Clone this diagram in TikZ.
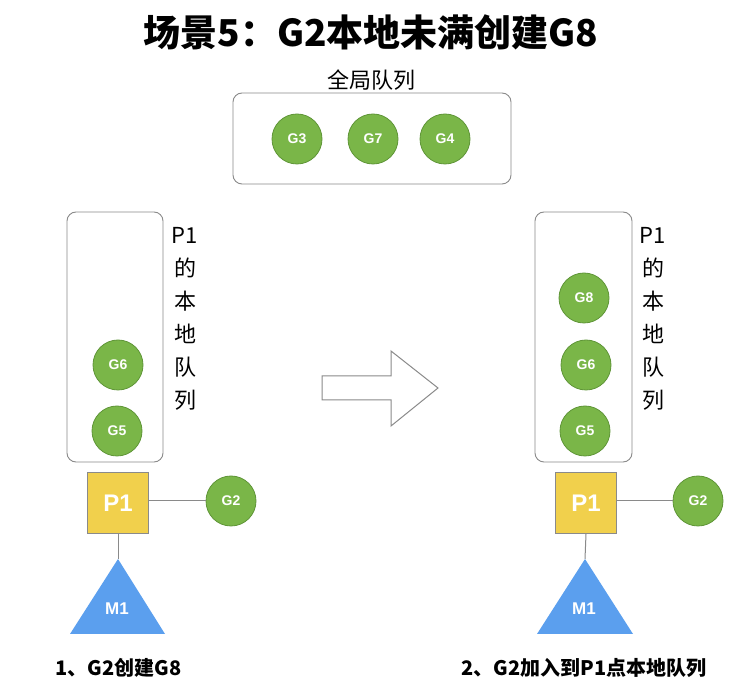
\documentclass[tikz,border=0pt]{standalone}
\usepackage{fontspec}
\setmainfont{Liberation Sans}
\newfontfamily\cjk{Noto Sans CJK SC}
\definecolor{gfill}{HTML}{7AB648}
\definecolor{gline}{HTML}{5F9537}
\definecolor{pfill}{HTML}{F1D04C}
\definecolor{mfill}{HTML}{5B9FEE}
\definecolor{boxline}{HTML}{8A8A8A}
\tikzset{
  gnode/.style={circle, fill=gfill, draw=gline, line width=0.8pt, minimum size=50pt, inner sep=0pt, text=white, font=\bfseries\fontsize{14}{14}\selectfont},
  pnode/.style={rectangle, fill=pfill, draw=boxline, line width=0.8pt, minimum size=61pt, inner sep=0pt, text=white, font=\bfseries\fontsize{24}{24}\selectfont},
  queue/.style={draw=boxline, rounded corners=9pt, line width=0.9pt},
  link/.style={draw=boxline, line width=1pt},
  qlabel/.style={align=center, font=\cjk\fontsize{22}{33}\selectfont},
  step label/.style={anchor=west, font=\cjk\bfseries\fontsize{20}{20}\selectfont},
}
\begin{document}
\begin{tikzpicture}[x=1pt, y=-1pt]
	\fill[white] (0,0) rectangle (732,692);
	\useasboundingbox (0,0) rectangle (732,692);
	% title
	\node (title) at (371,32) {\cjk\bfseries\fontsize{37}{37}\selectfont 场景5：G2本地未满创建G8};
	% global queue
	\node (globallabel) at (371,80) {\cjk\fontsize{22}{22}\selectfont 全局队列};
	\draw[queue] (233,93) rectangle (511,184);
	\node[gnode] (g3) at (297,139) {G3};
	\node[gnode] (g7) at (373,139) {G7};
	\node[gnode] (g4) at (445,139) {G4};

	% left: before
	\draw[queue] (67,212) rectangle (163,462);
	\node[qlabel] (lqlabel) at (185,319) {P1\\的\\本\\地\\队\\列};
	\node[gnode] (lg6) at (118,365) {G6};
	\node[gnode] (lg5) at (117,431) {G5};
	\node[pnode] (lp1) at (118,503) {P1};
	\node[gnode] (lg2) at (231,501) {G2};
	\draw[fill=mfill, draw=none] (118,559) coordinate (lm1top) -- (165,634) -- (70,634) -- cycle;
	\node[text=white, font=\bfseries\fontsize{17}{17}\selectfont] (lm1) at (117,609) {M1};
	\draw[link] (lp1.east |- lg2) -- (lg2.west);
	\draw[link] (lp1.south) -- (lm1top);
	\node[step label] (step1) at (52,668) {1、G2创建G8};

	% arrow
	\draw[boxline, line width=1pt, fill=white] (322,376) -- (391,376) -- (391,351) -- (438,388) -- (391,426) -- (391,400) -- (322,400) -- cycle;

	% right: after
	\draw[queue] (535,212) rectangle (632,462);
	\node[qlabel] (rqlabel) at (653,319) {P1\\的\\本\\地\\队\\列};
	\node[gnode] (rg8) at (584,298) {G8};
	\node[gnode] (rg6) at (586,365) {G6};
	\node[gnode] (rg5) at (585,431) {G5};
	\node[pnode] (rp1) at (586,503) {P1};
	\node[gnode] (rg2) at (698,501) {G2};
	\draw[fill=mfill, draw=none] (585,559) coordinate (rm1top) -- (633,634) -- (537,634) -- cycle;
	\node[text=white, font=\bfseries\fontsize{17}{17}\selectfont] (rm1) at (584,609) {M1};
	\draw[link] (rp1.east |- rg2) -- (rg2.west);
	\draw[link] (rp1.south) -- (rm1top);
	\node[step label] (step2) at (458,668) {2、G2加入到P1点本地队列};
\end{tikzpicture}
\end{document}
